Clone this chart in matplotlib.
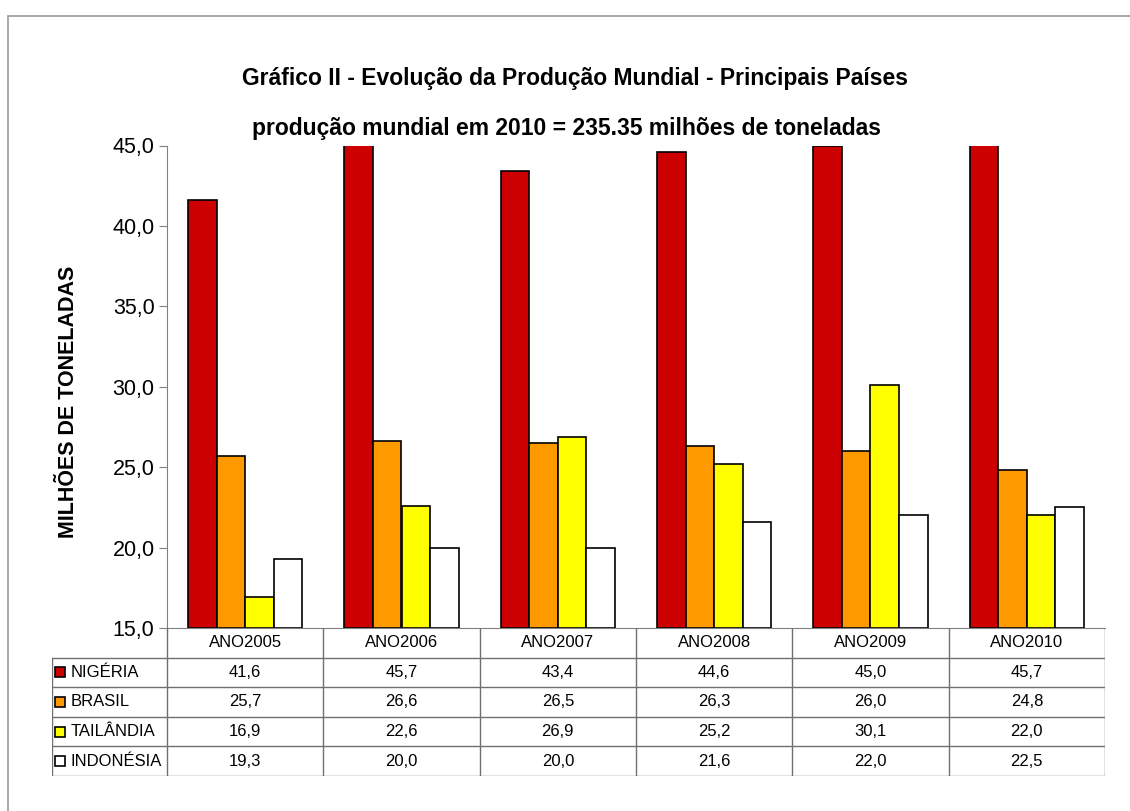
import numpy as np
import matplotlib.pyplot as plt
from matplotlib.patches import Rectangle
from matplotlib.lines import Line2D

plt.rcParams['font.family'] = ['Liberation Sans', 'DejaVu Sans']

anos = ["ANO2005", "ANO2006", "ANO2007", "ANO2008", "ANO2009", "ANO2010"]
paises = ["NIGÉRIA", "BRASIL", "TAILÂNDIA", "INDONÉSIA"]
nigeria = [41.6, 45.7, 43.4, 44.6, 45.0, 45.7]
brasil = [25.7, 26.6, 26.5, 26.3, 26.0, 24.8]
tailandia = [16.9, 22.6, 26.9, 25.2, 30.1, 22.0]
indonesia = [19.3, 20.0, 20.0, 21.6, 22.0, 22.5]
cores = ["#CC0000", "#FF9900", "#FFFF00", "#FFFFFF"]

W, H = 1130, 811
fig = plt.figure(figsize=(W / 100, H / 100), dpi=100)

# moldura (só aparecem topo e esquerda)
fig.add_artist(Rectangle((8 / W, -0.1), 1.2, 1 - 16 / H + 0.1, transform=fig.transFigure,
                         fill=False, edgecolor="#9a9a9a", lw=1.2))

# area do grafico
x0, x1 = 167, 1105
ytop, ybot = 145.5, 628
ax = fig.add_axes([x0 / W, 1 - ybot / H, (x1 - x0) / W, (ybot - ytop) / H])
series = [nigeria, brasil, tailandia, indonesia]
x = np.arange(len(anos))
w = 0.1825
for k, (vals, cor) in enumerate(zip(series, cores)):
    ax.bar(x + (k - 1.5) * w, np.array(vals) - 15, bottom=15, width=w, color=cor,
           edgecolor="black", linewidth=1.2)
ax.set_xlim(-0.5, len(anos) - 0.5)
ax.set_ylim(15, 45)
ax.set_yticks(np.arange(15, 46, 5))
ax.set_yticklabels([f"{v:.1f}".replace(".", ",") for v in np.arange(15, 46, 5)], fontsize=15.5)
ax.set_xticks([])
for s in ["top", "right"]:
    ax.spines[s].set_visible(False)
ax.spines["left"].set_color("#808080")
ax.spines["bottom"].set_color("#808080")
ax.tick_params(axis="y", length=6, color="#808080", pad=3)
ax.set_ylabel("MILHÕES DE TONELADAS", fontsize=15.5, fontweight="bold")
ax.yaxis.set_label_coords((79 - x0) / (x1 - x0), (ybot - 402) / (ybot - ytop))

# titulos
fig.text(575 / W, 1 - 78 / H, "Gráfico II - Evolução da Produção Mundial - Principais Países",
         ha="center", va="center", fontsize=16.5, fontweight="bold")
fig.text(567 / W, 1 - 128 / H, "produção mundial em 2010 = 235.35 milhões de toneladas",
         ha="center", va="center", fontsize=16.5, fontweight="bold")

# tabela de dados
tl, tb = 52, 776
tax = fig.add_axes([tl / W, 1 - tb / H, (x1 - tl) / W, (tb - ybot) / H])
lab_w = (x0 - tl) / ((x1 - x0) / len(anos))
tax.set_xlim(-lab_w, len(anos))
tax.set_ylim(0, 5)
tax.axis("off")
lc = "#707070"
for r in range(5):
    tax.add_line(Line2D([-lab_w, len(anos)], [r, r], color=lc, lw=1))
tax.add_line(Line2D([-lab_w, -lab_w], [0, 4], color=lc, lw=1))
for c in range(len(anos) + 1):
    tax.add_line(Line2D([c, c], [0, 5], color=lc, lw=1))
for c, ano in enumerate(anos):
    tax.text(c + 0.5, 4.5, ano, ha="center", va="center", fontsize=12)
for r, (pais, vals, cor) in enumerate(zip(paises, series, cores)):
    yy = 3.5 - r
    for c, v in enumerate(vals):
        tax.text(c + 0.5, yy, f"{v:.1f}".replace(".", ","), ha="center", va="center", fontsize=12)
    tax.add_patch(Rectangle((-lab_w + 0.02, yy - 0.17), 0.062, 0.34, facecolor=cor,
                            edgecolor="black", lw=1.2))
    tax.text(-lab_w + 0.12, yy, pais, ha="left", va="center", fontsize=12)

fig.savefig("out.png", dpi=100)
